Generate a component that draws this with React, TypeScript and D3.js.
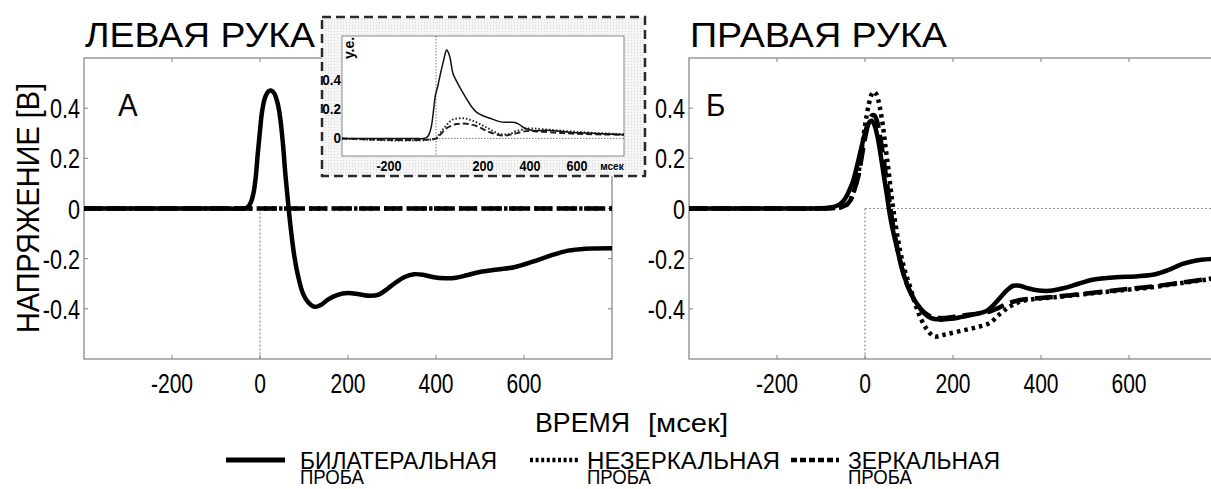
import React from "react";
import * as d3 from "d3";

type P = [number, number];

// ---------- axes ----------
const xDomain: P = [-400, 800];
const yDomain: P = [-0.6, 0.6];
const xTicks = [-200, 0, 200, 400, 600];
const yTicks = [0.4, 0.2, 0, -0.2, -0.4];
const xTickLabels = ["-200", "0", "200", "400", "600"];
const yTickLabels = ["0.4", "0.2", "0", "-0.2", "-0.4"];

const insetYDomain: P = [-0.12, 0.7];
const insetXTicks = [-200, 200, 400, 600];
const insetYTicks = [0, 0.2, 0.4];

// ---------- data: left hand (A) ----------
const leftBilateral: P[] = [
  [-400, 0], [-300, 0], [-200, 0], [-100, 0], [-40, 0], [-30, 0.003], [-22, 0.02], [-15, 0.06],
  [-10, 0.12], [-5, 0.22], [0, 0.31], [5, 0.39], [12, 0.445], [20, 0.468], [26, 0.47], [32, 0.46],
  [40, 0.42], [46, 0.36], [52, 0.26], [58, 0.13], [64, 0.02], [70, -0.08], [78, -0.19], [88, -0.28],
  [98, -0.34], [110, -0.375], [124, -0.392], [138, -0.385], [155, -0.362], [175, -0.345], [200, -0.337],
  [225, -0.342], [250, -0.348], [270, -0.343], [290, -0.32], [310, -0.293], [330, -0.272], [350, -0.262],
  [370, -0.264], [395, -0.274], [420, -0.278], [445, -0.276], [470, -0.266], [500, -0.253], [540, -0.243],
  [580, -0.233], [620, -0.212], [660, -0.188], [700, -0.168], [740, -0.16], [800, -0.158],
];
const leftNonMirror: P[] = [[-400, 0], [0, 0], [400, 0], [800, 0]];
const leftMirror: P[] = [[-400, 0], [0, 0], [400, 0], [800, 0]];

// ---------- data: right hand (Б) ----------
const rightBilateral: P[] = [
  [-400, 0], [-200, 0], [-100, 0.001], [-80, 0.004], [-65, 0.01], [-55, 0.02], [-45, 0.04], [-35, 0.075],
  [-27, 0.11], [-18, 0.17], [-10, 0.23], [-3, 0.28], [4, 0.325], [10, 0.345], [15, 0.35], [21, 0.335],
  [28, 0.29], [35, 0.22], [42, 0.14], [50, 0.05], [57, -0.03], [65, -0.1], [73, -0.16], [84, -0.24],
  [95, -0.3], [106, -0.345], [118, -0.38], [133, -0.415], [150, -0.437], [170, -0.443], [195, -0.44],
  [220, -0.432], [248, -0.422], [275, -0.41], [292, -0.385], [307, -0.356], [322, -0.327], [337, -0.308],
  [352, -0.308], [370, -0.318], [395, -0.327], [420, -0.328], [450, -0.318], [485, -0.3], [520, -0.283],
  [570, -0.274], [620, -0.27], [660, -0.262], [690, -0.245], [720, -0.222], [750, -0.208], [800, -0.2],
];
const rightNonMirror: P[] = [
  [-400, 0], [-200, 0], [-100, 0], [-60, 0.003], [-45, 0.01], [-35, 0.03], [-25, 0.07], [-15, 0.14],
  [-7, 0.24], [0, 0.33], [8, 0.41], [15, 0.455], [20, 0.465], [26, 0.455], [33, 0.41], [41, 0.325],
  [47, 0.24], [53, 0.16], [61, 0.04], [70, -0.07], [80, -0.17], [91, -0.25], [102, -0.31], [114, -0.38],
  [126, -0.435], [140, -0.48], [157, -0.51], [180, -0.503], [213, -0.49], [250, -0.475], [282, -0.458],
  [307, -0.42], [330, -0.39], [355, -0.37], [390, -0.36], [430, -0.354], [480, -0.345], [534, -0.335],
  [590, -0.325], [648, -0.315], [700, -0.302], [750, -0.29], [800, -0.278],
];
const rightMirror: P[] = [
  [-400, 0], [-200, 0], [-100, 0], [-60, 0.004], [-45, 0.012], [-34, 0.03], [-25, 0.07], [-15, 0.13],
  [-7, 0.21], [0, 0.28], [8, 0.34], [15, 0.37], [21, 0.372], [27, 0.35], [34, 0.29], [42, 0.2],
  [50, 0.1], [57, 0.01], [65, -0.08], [74, -0.16], [85, -0.245], [96, -0.305], [108, -0.35], [120, -0.385],
  [135, -0.415], [152, -0.432], [175, -0.437], [200, -0.432], [230, -0.425], [260, -0.418], [285, -0.41],
  [305, -0.395], [325, -0.378], [350, -0.366], [390, -0.358], [430, -0.352], [480, -0.343], [534, -0.333],
  [590, -0.322], [648, -0.312], [700, -0.3], [750, -0.288], [800, -0.276],
];

// ---------- data: inset ----------
const insetBilateral: P[] = [
  [-400, 0], [-100, 0], [-45, 0.002], [-32, 0.02], [-20, 0.08], [-10, 0.2], [-3, 0.29], [8, 0.36],
  [20, 0.45], [32, 0.53], [45, 0.605], [52, 0.59], [60, 0.55], [73, 0.44], [88, 0.39], [101, 0.35],
  [130, 0.27], [150, 0.22], [172, 0.18], [200, 0.155], [230, 0.138], [271, 0.115], [300, 0.11],
  [327, 0.11], [350, 0.1], [372, 0.075], [411, 0.055], [483, 0.055], [568, 0.042], [681, 0.034], [800, 0.025],
];
const insetNonMirror: P[] = [
  [-400, 0], [0, 0], [15, 0.03], [30, 0.063], [50, 0.1], [73, 0.13], [116, 0.138], [158, 0.12],
  [215, 0.075], [271, 0.03], [313, 0.03], [341, 0.05], [398, 0.068], [455, 0.063], [596, 0.045], [800, 0.028],
];
const insetMirror: P[] = [
  [-400, 0], [0, 0], [15, 0.02], [45, 0.07], [87, 0.098], [130, 0.1], [172, 0.085], [229, 0.042],
  [285, 0.02], [327, 0.03], [384, 0.05], [455, 0.045], [596, 0.032], [800, 0.025],
];

// ---------- legend ----------
const legendNames = ["БИЛАТЕРАЛЬНАЯ", "НЕЗЕРКАЛЬНАЯ", "ЗЕРКАЛЬНАЯ"];
const legendSecond = "ПРОБА";

const FONT = "'Liberation Sans', Arial, Helvetica, sans-serif";
const FRAME = "#808080";

const styles = {
  solid: { dash: undefined as string | undefined, width: 4.5 },
  dotted: { dash: "3.5,4", width: 4.5 },
  dashed: { dash: "18,7", width: 4.5 },
};

function T(props: {
  x: number; y: number; size: number; children: React.ReactNode; anchor?: string;
  sx?: number; rotate?: number; weight?: string | number; len?: number; fill?: string;
}) {
  const { x, y, size, children, anchor = "start", sx = 1, rotate = 0, weight = "normal", len, fill = "#000" } = props;
  return (
    <text
      transform={`translate(${x},${y}) rotate(${rotate}) scale(${sx},1)`}
      fontFamily={FONT}
      fontSize={size}
      fontWeight={weight}
      textAnchor={anchor}
      fill={fill}
      textLength={len}
      lengthAdjust={len ? "spacingAndGlyphs" : undefined}
    >
      {children}
    </text>
  );
}

function Panel(props: {
  x0: number; x1: number; y0: number; y1: number;
  series: { data: P[]; kind: "solid" | "dotted" | "dashed" }[];
  zeroH: boolean; letter: string; letterX: number;
}) {
  const { x0, x1, y0, y1, series, zeroH, letter, letterX } = props;
  const x = d3.scaleLinear().domain(xDomain).range([x0, x1]);
  const y = d3.scaleLinear().domain(yDomain).range([y1, y0]);
  const line = d3.line<P>().x((d) => x(d[0])).y((d) => y(d[1])).curve(d3.curveCatmullRom.alpha(0.5));
  return (
    <g>
      <line x1={x(0)} x2={x(0)} y1={y(0)} y2={y1} stroke="#555" strokeWidth={0.8} strokeDasharray="2,2" />
      {zeroH && (
        <line x1={x(0)} x2={x1} y1={y(0)} y2={y(0)} stroke="#777" strokeWidth={0.8} strokeDasharray="2,2" />
      )}
      <rect x={x0} y={y0} width={x1 - x0} height={y1 - y0} fill="none" stroke={FRAME} strokeWidth={1.2} />
      {xTicks.map((t) => (
        <g key={"xt" + t}>
          <line x1={x(t)} x2={x(t)} y1={y1} y2={y1 - 4} stroke={FRAME} strokeWidth={1} />
          <line x1={x(t)} x2={x(t)} y1={y0} y2={y0 + 4} stroke={FRAME} strokeWidth={1} />
        </g>
      ))}
      {yTicks.map((t) => (
        <g key={"yt" + t}>
          <line x1={x0} x2={x0 + 4} y1={y(t)} y2={y(t)} stroke={FRAME} strokeWidth={1} />
          <line x1={x1} x2={x1 - 4} y1={y(t)} y2={y(t)} stroke={FRAME} strokeWidth={1} />
        </g>
      ))}
      {series.map((s, i) => (
        <path
          key={i}
          d={line(s.data) || ""}
          fill="none"
          stroke="#000"
          strokeWidth={styles[s.kind].width}
          strokeDasharray={styles[s.kind].dash}
          strokeLinejoin="round"
        />
      ))}
      {xTicks.map((t, i) => (
        <T key={"xl" + t} x={x(t)} y={y1 + 34} size={27} sx={0.78} anchor="middle">{xTickLabels[i]}</T>
      ))}
      {yTicks.map((t, i) => (
        <T key={"yl" + t} x={x0 - 4} y={y(t) + 10} size={27} sx={0.8} anchor="end">{yTickLabels[i]}</T>
      ))}
      <T x={letterX} y={116} size={31} sx={0.95}>{letter}</T>
    </g>
  );
}

function Inset() {
  const bx0 = 322, bx1 = 645, by0 = 17, by1 = 176;
  const ix0 = 342, ix1 = 624, iy0 = 36, iy1 = 156;
  const x = d3.scaleLinear().domain(xDomain).range([ix0, ix1]);
  const y = d3.scaleLinear().domain(insetYDomain).range([iy1, iy0]);
  const line = d3.line<P>().x((d) => x(d[0])).y((d) => y(d[1])).curve(d3.curveCatmullRom.alpha(0.5));
  return (
    <g>
      <defs>
        <pattern id="halftone" width={3} height={3} patternUnits="userSpaceOnUse">
          <rect width={3} height={3} fill="#f7f7f7" />
          <circle cx={1.5} cy={1.5} r={0.7} fill="#d9d9d9" />
        </pattern>
      </defs>
      <rect x={bx0} y={by0} width={bx1 - bx0} height={by1 - by0} fill="url(#halftone)" />
      <rect x={ix0} y={iy0} width={ix1 - ix0} height={iy1 - iy0} fill="#fff" stroke="#888" strokeWidth={1} />
      <line x1={x(0)} x2={x(0)} y1={iy0} y2={iy1} stroke="#444" strokeWidth={0.7} strokeDasharray="1.5,1.5" />
      <line x1={x(0)} x2={ix1} y1={y(0)} y2={y(0)} stroke="#444" strokeWidth={0.7} strokeDasharray="1.5,1.5" />
      <path d={line(insetMirror) || ""} fill="none" stroke="#222" strokeWidth={2} strokeDasharray="6,3" />
      <path d={line(insetNonMirror) || ""} fill="none" stroke="#222" strokeWidth={2} strokeDasharray="1.5,2" />
      <path d={line(insetBilateral) || ""} fill="none" stroke="#111" strokeWidth={1.5} />
      {insetXTicks.map((t) => (
        <T key={"ix" + t} x={x(t)} y={171} size={14} weight="bold" anchor="middle" sx={0.9}>{String(t)}</T>
      ))}
      <T x={612} y={170} size={10} weight="bold" anchor="middle">мсек</T>
      {insetYTicks.map((t) => (
        <T key={"iy" + t} x={341} y={y(t) + 5} size={15} weight="bold" anchor="end" sx={0.9}>{String(t)}</T>
      ))}
      <T x={354} y={48} size={14} weight="bold" rotate={-90} anchor="middle">у.е.</T>
      <rect x={bx0} y={by0} width={bx1 - bx0} height={by1 - by0} fill="none" stroke="#2a2a2a" strokeWidth={2.5} strokeDasharray="9,5" />
    </g>
  );
}

export default function App() {
  const W = 1211, H = 489;
  const legendX = [226, 530, 791];
  const legendDash = [undefined, "3,2.6", "6,3"];
  const legendLen = [197, 193, 152];
  const legendY = 460;
  return (
    <div style={{ position: "absolute", left: 0, top: 0, width: W, height: H, overflow: "hidden", background: "#fff" }}>
      <svg width={W} height={H} style={{ display: "block" }}>
        <rect width={W} height={H} fill="#fff" />
        <Panel
          x0={84} x1={612} y0={58} y1={359}
          series={[
            { data: leftNonMirror, kind: "dotted" },
            { data: leftMirror, kind: "dashed" },
            { data: leftBilateral, kind: "solid" },
          ]}
          zeroH={false} letter="А" letterX={118}
        />
        <Panel
          x0={689} x1={1217} y0={58} y1={359}
          series={[
            { data: rightMirror, kind: "dashed" },
            { data: rightNonMirror, kind: "dotted" },
            { data: rightBilateral, kind: "solid" },
          ]}
          zeroH={true} letter="Б" letterX={706}
        />
        <Inset />
        <T x={85} y={47} size={35} len={230}>ЛЕВАЯ РУКА</T>
        <T x={690} y={47} size={35} len={257}>ПРАВАЯ РУКА</T>
        <T x={39} y={208} size={31} rotate={-90} anchor="middle" len={250}>НАПРЯЖЕНИЕ  [В]</T>
        <T x={535} y={432} size={28} len={95}>ВРЕМЯ</T>
        <T x={648} y={432} size={25} len={80}>[мсек]</T>
        {legendNames.map((name, i) => (
          <g key={name}>
            <line
              x1={legendX[i]} x2={legendX[i] + (i === 0 ? 59 : 48)} y1={legendY} y2={legendY}
              stroke="#000" strokeWidth={i === 0 ? 5 : 4.5} strokeDasharray={legendDash[i]}
            />
            <T x={legendX[i] + (i === 0 ? 74 : 57)} y={legendY + 9} size={23} len={legendLen[i]}>{name}</T>
            <T x={legendX[i] + (i === 0 ? 74 : 57)} y={484} size={20} len={64}>{legendSecond}</T>
          </g>
        ))}
      </svg>
    </div>
  );
}
